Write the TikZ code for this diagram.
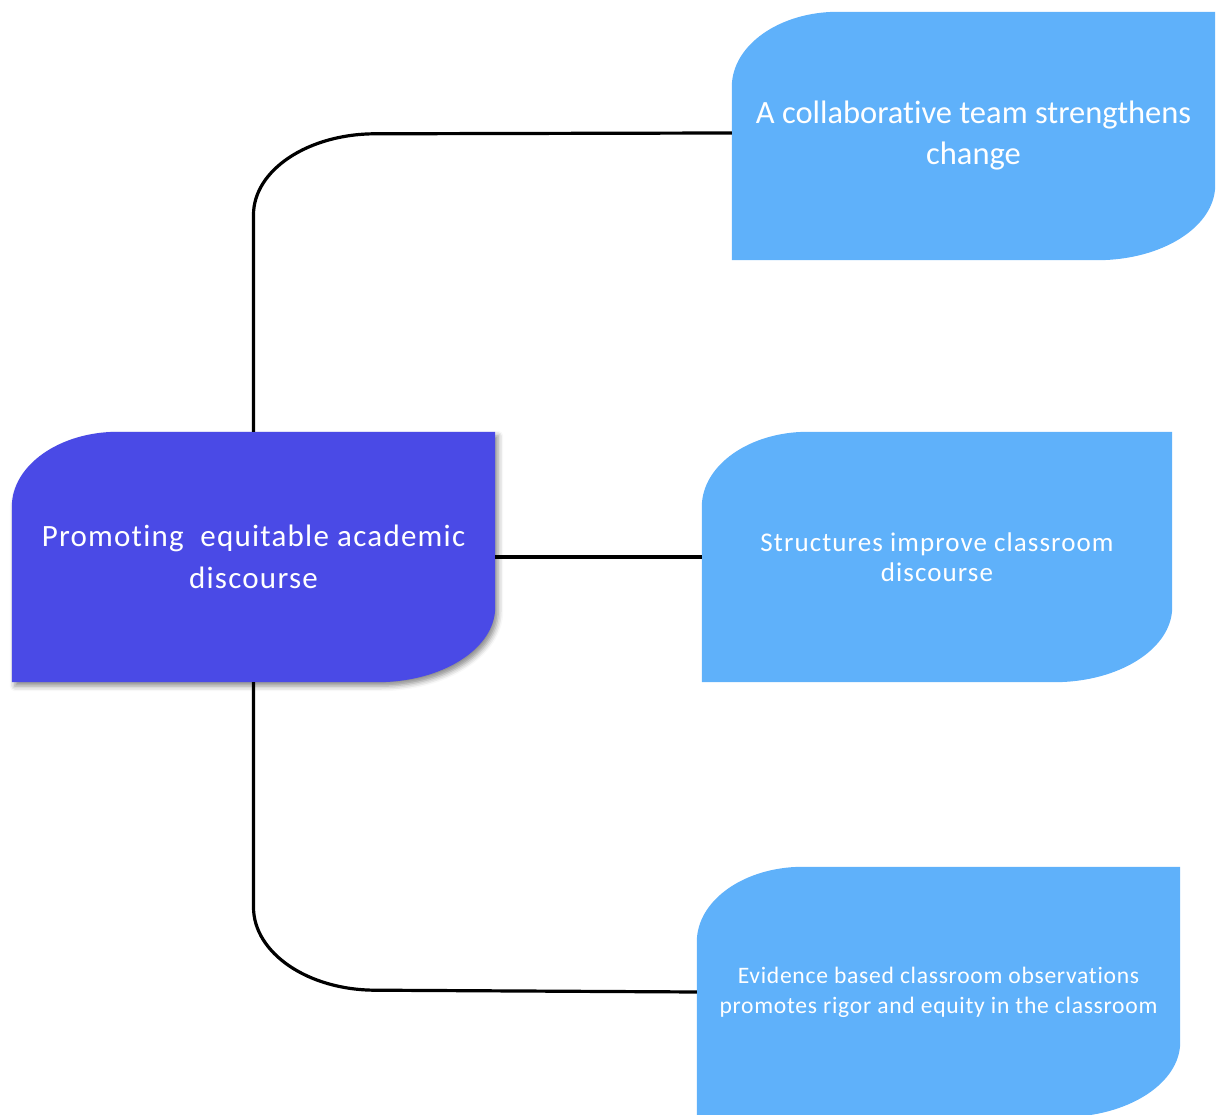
\documentclass[tikz,border=0pt]{standalone}
\usepackage{fontspec}
\setmainfont[Ligatures={NoCommon,NoRare}]{Carlito}
\usetikzlibrary{backgrounds,shadows.blur}

\definecolor{hubblue}{HTML}{4A4AE6}
\definecolor{leafblue}{HTML}{5FB1FA}

\tikzset{
  card/.style={rectangle, inner sep=0pt, minimum width=483pt, minimum height=250pt,
    align=center, text=white},
  link/.style={draw=black, line width=3.2pt},
}

% leaf-shaped card: square top-right and bottom-left corners,
% elliptical top-left and bottom-right corners
\newcommand\leafcard[3][]{%
  \fill[#3,#1]
    ([yshift=-75pt]#2.north west) -- (#2.south west)
    -- ([xshift=-118pt]#2.south east)
    arc[start angle=270,end angle=360,x radius=118pt,y radius=75pt]
    -- (#2.north east)
    -- ([xshift=106pt]#2.north west)
    arc[start angle=90,end angle=180,x radius=106pt,y radius=75pt]
    -- cycle;}

\begin{document}
\begin{tikzpicture}[x=1pt,y=1pt]
  \useasboundingbox (0,0) rectangle (1221,1114);
  \clip (0,0) rectangle (1221,1114);

  \node[card, font=\fontsize{31}{42}\selectfont\addfontfeature{LetterSpace=4}]
    (hub) at (253.5,557) {Promoting\ \ equitable academic\\discourse};
  \node[card, minimum height=248pt, font=\fontsize{32.5}{41}\selectfont]
    (team) at (973.5,978) {A collaborative team strengthens\\change};
  \node[card, minimum width=470pt, font=\fontsize{27}{30}\selectfont\addfontfeature{LetterSpace=4}]
    (struct) at (937,557) {Structures improve classroom\\discourse};
  \node[card, font=\fontsize{23.6}{30}\selectfont\addfontfeature{LetterSpace=3}]
    (evid) at (938.5,122) {Evidence based classroom observations\\promotes rigor and equity in the classroom};

  \begin{scope}[on background layer]
    \leafcard[blur shadow={shadow xshift=3pt,shadow yshift=-4pt,shadow blur radius=5pt,shadow opacity=45}]{hub}{hubblue}
    \leafcard{team}{leafblue}
    \leafcard{struct}{leafblue}
    \leafcard{evid}{leafblue}

    \draw[link] (hub.north) -- ++(0,217)
      arc[start angle=180,end angle=90,x radius=122pt,y radius=81pt] -- ([yshift=3pt]team.west);
    \draw[link] (hub.east) -- (struct.west);
    \draw[link] (hub.south) -- ++(0,-225)
      arc[start angle=180,end angle=270,x radius=122pt,y radius=83pt] -- (evid.west);
  \end{scope}
\end{tikzpicture}
\end{document}
